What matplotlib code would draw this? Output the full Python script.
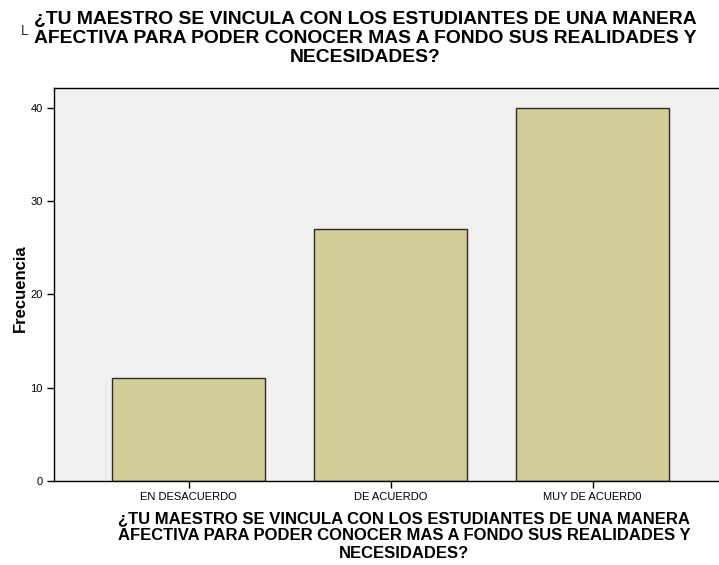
import matplotlib
matplotlib.use("Agg")
import matplotlib.pyplot as plt

categories = ["EN DESACUERDO", "DE ACUERDO", "MUY DE ACUERD0"]
values = [11, 27, 40]
yticks = [0, 10, 20, 30, 40]
title = ("¿TU MAESTRO SE VINCULA CON LOS ESTUDIANTES DE UNA MANERA\n"
         "AFECTIVA PARA PODER CONOCER MAS A FONDO SUS REALIDADES Y\n"
         "NECESIDADES?")
ylabel = "Frecuencia"

plt.rcParams['font.family'] = ['Liberation Sans', 'DejaVu Sans']

W, H = 719, 565
fig = plt.figure(figsize=(W / 100, H / 100), dpi=100)
ax = fig.add_axes([54 / W, (H - 481) / H, (W - 54) / W, (481 - 88) / H])
ax.set_facecolor('#F0F0F0')

x = list(range(len(categories)))
ax.bar(x, values, width=0.757, color='#D3CE97', edgecolor='#2b2b2b', linewidth=1.0, zorder=2)

ax.set_xlim(-0.666, 2.626)
ax.set_ylim(0, 42.1)
ax.set_xticks(x)
ax.set_xticklabels(categories, fontsize=8)
ax.set_yticks(yticks)
ax.set_yticklabels([str(v) for v in yticks], fontsize=8)
ax.tick_params(axis='both', direction='out', length=5, width=1, color='black', pad=3)
for s in ['left', 'bottom', 'top']:
    ax.spines[s].set_color('black')
    ax.spines[s].set_linewidth(1.0)
ax.spines['right'].set_visible(False)

ax.set_ylabel(ylabel, fontsize=12, fontweight='bold', va='center')
ax.yaxis.set_label_coords((20 - 54) / (W - 54), 0.49)

fig.text(365 / W, 1 - 11 / H, title, ha='center', va='top', fontsize=13.9,
         fontweight='bold', linespacing=1.16)
fig.text(404 / W, 1 - 511 / H, title, ha='center', va='top', fontsize=12.0,
         fontweight='bold', linespacing=1.2)
fig.text(21 / W, 1 - 38 / H, "L", ha='left', va='bottom', fontsize=10, color='#333333')

fig.savefig("out.png", dpi=100)
